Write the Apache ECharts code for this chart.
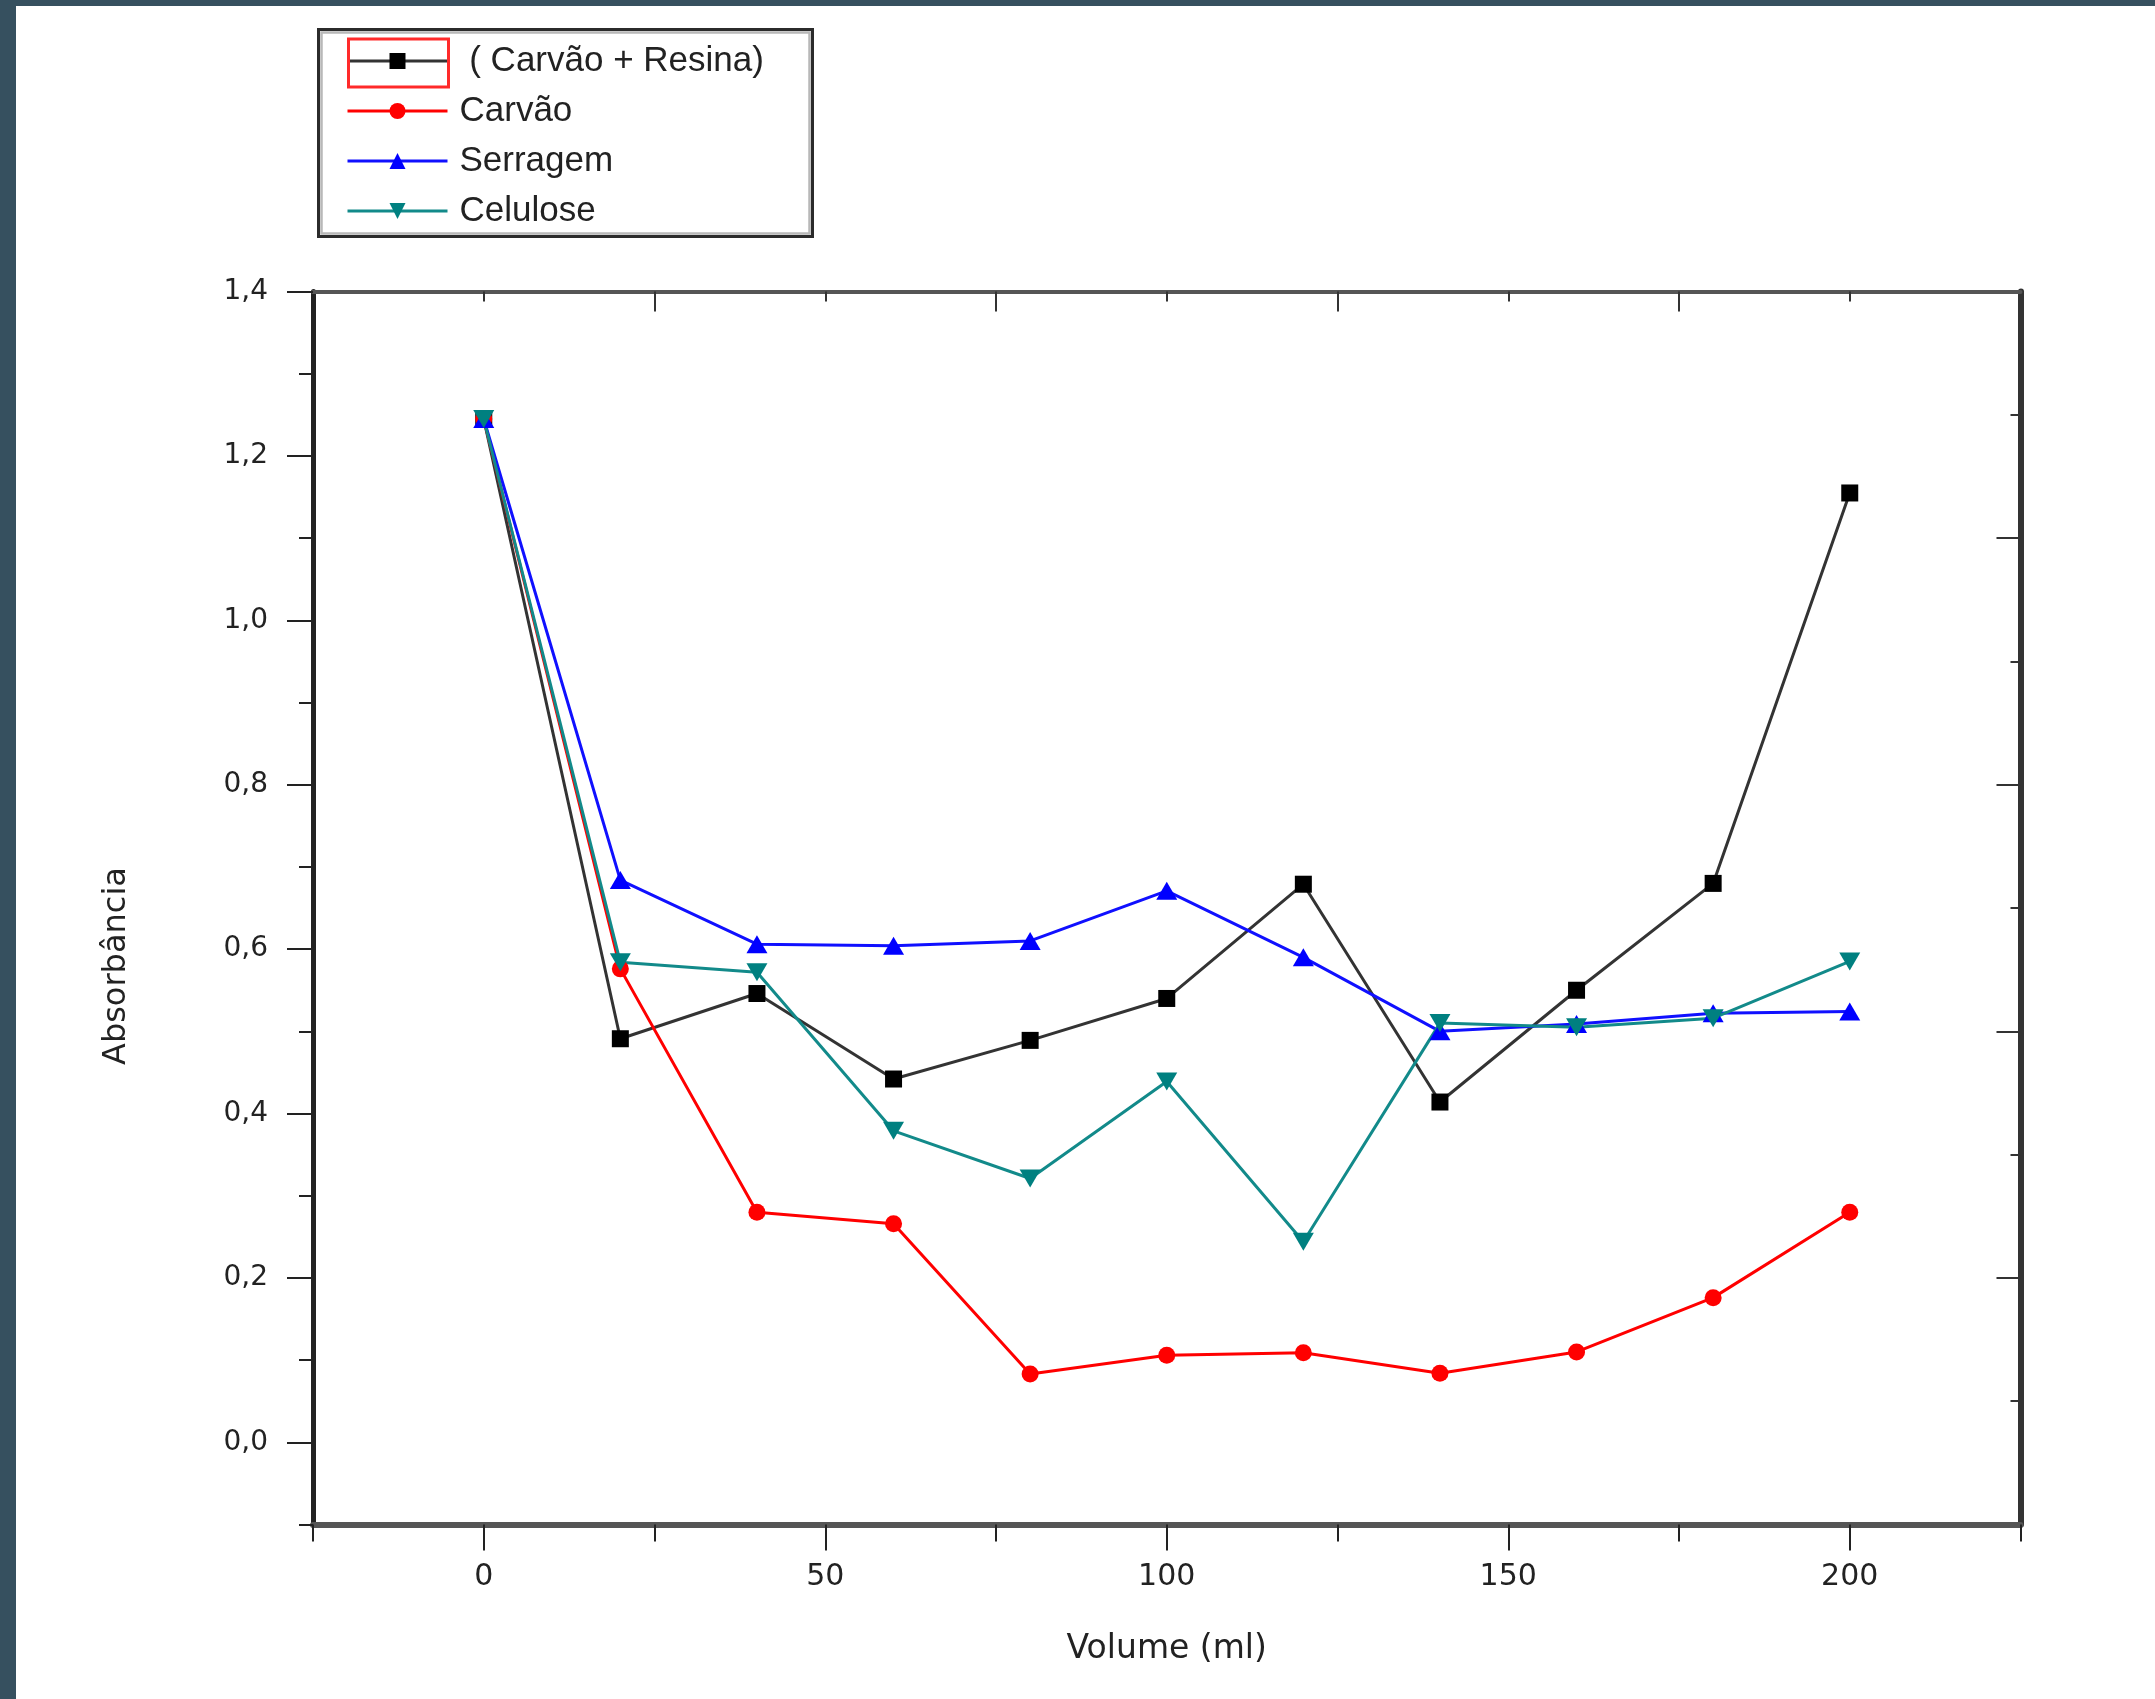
<!DOCTYPE html>
<html>
<head>
<meta charset="utf-8">
<script src="https://cdn.jsdelivr.net/npm/echarts@6/dist/echarts.min.js"></script>
<style>
  html, body { margin: 0; padding: 0; background: #ffffff; }
  #chart { width: 2155px; height: 1699px; }
</style>
</head>
<body>
<div id="chart"></div>
<script>
// Volume passed through the column (ml)
const volume = [0, 20, 40, 60, 80, 100, 120, 140, 160, 180, 200];

// Absorbance readings for each filter material
const carvaoResina = [1.245, 0.491, 0.546, 0.442, 0.489, 0.540, 0.679, 0.414, 0.550, 0.680, 1.155];
const carvao       = [1.245, 0.576, 0.280, 0.266, 0.083, 0.106, 0.109, 0.084, 0.110, 0.176, 0.280];
const serragem     = [1.245, 0.684, 0.606, 0.604, 0.610, 0.671, 0.590, 0.500, 0.509, 0.522, 0.524];
const celulose     = [1.245, 0.584, 0.572, 0.379, 0.321, 0.439, 0.244, 0.510, 0.505, 0.516, 0.585];

const seriesNames = [' ( Carvão + Resina)', 'Carvão', 'Serragem', 'Celulose'];

// Tick positions on the four sides of the frame
const xMajorTicks    = [0, 50, 100, 150, 200];
const xMinorTicks    = [-25, 25, 75, 125, 175, 225];
const xTopLongTicks  = [25, 75, 125, 175];
const xTopShortTicks = [0, 50, 100, 150, 200];
const yMajorTicks    = [0, 0.2, 0.4, 0.6, 0.8, 1.0, 1.2, 1.4];
const yMinorTicks    = [-0.1, 0.1, 0.3, 0.5, 0.7, 0.9, 1.1, 1.3];
const yRightLongTicks  = [0.2, 0.5, 0.8, 1.1];
const yRightShortTicks = [0.05, 0.35, 0.65, 0.95, 1.25];

const X_MIN = -25, X_MAX = 225;
const Y_MIN = -0.1, Y_MAX = 1.4;

const pairs = (ys) => volume.map((v, i) => [v, ys[i]]);

const tickOnly = (ticks, len, inside, color) => ({
  show: true,
  inside: inside,
  length: len,
  customValues: ticks,
  lineStyle: { color: color || '#222', width: 2 }
});

const frameLine = (color, width) => ({
  show: true, onZero: false, lineStyle: { color: color, width: width }
});
const hiddenLine = { show: false, onZero: false };

const chart = echarts.init(document.getElementById('chart'), null, { renderer: 'canvas' });

chart.setOption({
  animation: false,
  backgroundColor: '#ffffff',
  grid: { left: 313, right: 134.5, top: 291.6, bottom: 174.5 },
  xAxis: [
    {
      type: 'value', position: 'bottom', min: X_MIN, max: X_MAX, interval: 25,
      axisLine: frameLine('#555', 6),
      axisTick: tickOnly(xMajorTicks, 26, false),
      axisLabel: {
        show: true, customValues: xMajorTicks, margin: 38,
        fontFamily: 'DejaVu Sans', fontSize: 30, color: '#222'
      },
      splitLine: { show: false },
      name: 'Volume (ml)', nameLocation: 'middle', nameGap: 108,
      nameTextStyle: { fontFamily: 'DejaVu Sans', fontSize: 33, color: '#222' }
    },
    {
      type: 'value', position: 'bottom', min: X_MIN, max: X_MAX, interval: 25,
      axisLine: hiddenLine, axisTick: tickOnly(xMinorTicks, 17, false),
      axisLabel: { show: false }, splitLine: { show: false }
    },
    {
      type: 'value', position: 'top', min: X_MIN, max: X_MAX, interval: 25,
      axisLine: frameLine('#555', 4),
      axisTick: tickOnly(xTopLongTicks, 20, true, '#333'),
      axisLabel: { show: false }, splitLine: { show: false }
    },
    {
      type: 'value', position: 'top', min: X_MIN, max: X_MAX, interval: 25,
      axisLine: hiddenLine, axisTick: tickOnly(xTopShortTicks, 10, true, '#333'),
      axisLabel: { show: false }, splitLine: { show: false }
    }
  ],
  yAxis: [
    {
      type: 'value', position: 'left', min: Y_MIN, max: Y_MAX, interval: 0.1,
      axisLine: frameLine('#222', 5),
      axisTick: tickOnly(yMajorTicks, 26, false),
      axisLabel: {
        show: true, customValues: yMajorTicks, margin: 45,
        fontFamily: 'DejaVu Sans', fontSize: 28, color: '#222',
        formatter: (v) => v.toFixed(1).replace('.', ',')
      },
      splitLine: { show: false },
      name: 'Absorbância', nameLocation: 'middle', nameRotate: 90, nameGap: 180,
      nameTextStyle: {
        fontFamily: 'DejaVu Sans', fontSize: 32, color: '#222',
        padding: [0, 116, 0, 0]
      }
    },
    {
      type: 'value', position: 'left', min: Y_MIN, max: Y_MAX, interval: 0.1,
      axisLine: hiddenLine, axisTick: tickOnly(yMinorTicks, 14, false),
      axisLabel: { show: false }, splitLine: { show: false }
    },
    {
      type: 'value', position: 'right', min: Y_MIN, max: Y_MAX, interval: 0.1,
      axisLine: frameLine('#333', 6),
      axisTick: tickOnly(yRightLongTicks, 24, true, '#333'),
      axisLabel: { show: false }, splitLine: { show: false }
    },
    {
      type: 'value', position: 'right', min: Y_MIN, max: Y_MAX, interval: 0.1,
      axisLine: hiddenLine, axisTick: tickOnly(yRightShortTicks, 10, true, '#333'),
      axisLabel: { show: false }, splitLine: { show: false }
    }
  ],
  legend: {
    orient: 'vertical',
    left: 346, top: 41,
    padding: 0,
    itemWidth: 100, itemHeight: 20, itemGap: 10,
    lineStyle: { width: 3 },
    textStyle: {
      fontFamily: 'Liberation Sans', fontSize: 35, lineHeight: 40, color: '#222',
      padding: [0, 0, 0, 7]
    },
    data: seriesNames
  },
  graphic: [
    // dark frame bands along the top and left edges
    { type: 'rect', shape: { x: 0, y: 0, width: 2155, height: 6 }, style: { fill: '#36505f' }, silent: true },
    { type: 'rect', shape: { x: 0, y: 0, width: 16, height: 1699 }, style: { fill: '#36505f' }, silent: true },
    // legend frame
    { type: 'rect', shape: { x: 318.5, y: 29.5, width: 494, height: 207 },
      style: { fill: 'none', stroke: '#2b2b2b', lineWidth: 3 }, silent: true },
    { type: 'rect', shape: { x: 321.5, y: 32.5, width: 488, height: 201 },
      style: { fill: 'none', stroke: '#b8b8b8', lineWidth: 2.5 }, silent: true },
    // highlight box around the first legend key
    { type: 'rect', shape: { x: 348.5, y: 39, width: 100, height: 48 },
      style: { fill: 'none', stroke: '#ff2a2a', lineWidth: 3 }, silent: true, z: 10 }
  ],
  series: [
    {
      name: seriesNames[0], type: 'line', xAxisIndex: 0, yAxisIndex: 0,
      data: pairs(carvaoResina),
      symbol: 'rect', symbolSize: 17,
      lineStyle: { color: '#333', width: 3 },
      itemStyle: { color: '#000' }
    },
    {
      name: seriesNames[1], type: 'line', xAxisIndex: 0, yAxisIndex: 0,
      data: pairs(carvao),
      symbol: 'circle', symbolSize: 17,
      lineStyle: { color: '#ff0000', width: 3 },
      itemStyle: { color: '#ff0000' }
    },
    {
      name: seriesNames[2], type: 'line', xAxisIndex: 0, yAxisIndex: 0,
      data: pairs(serragem),
      symbol: 'triangle', symbolSize: [21, 18],
      lineStyle: { color: '#1010ff', width: 3 },
      itemStyle: { color: '#0000ff' }
    },
    {
      name: seriesNames[3], type: 'line', xAxisIndex: 0, yAxisIndex: 0,
      data: pairs(celulose),
      symbol: 'triangle', symbolRotate: 180, symbolSize: [21, 18],
      lineStyle: { color: '#128a8a', width: 3 },
      itemStyle: { color: '#008080' }
    }
  ]
});
</script>
</body>
</html>
